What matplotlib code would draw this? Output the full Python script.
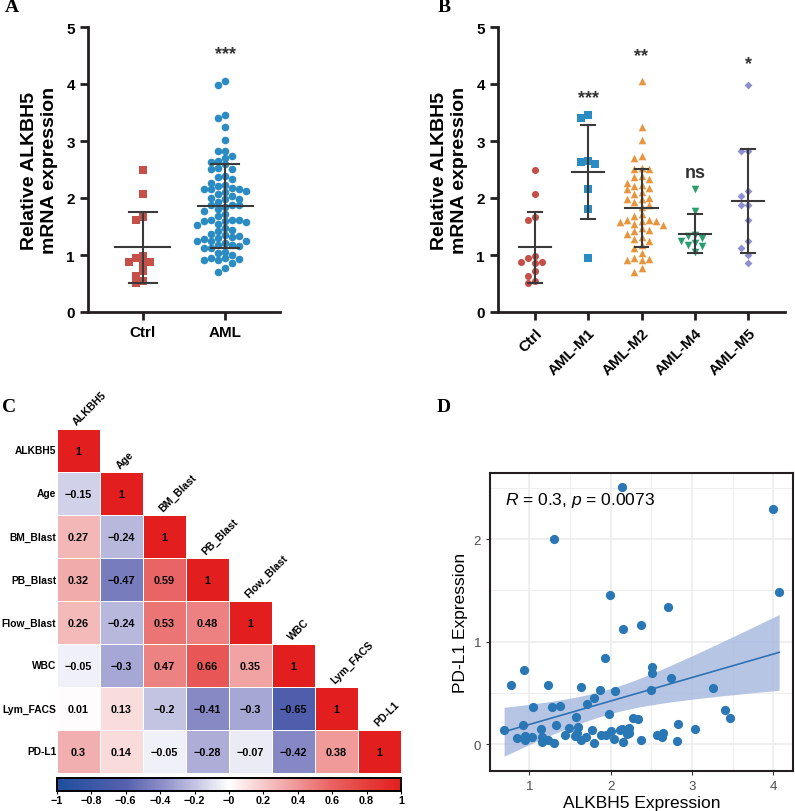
import numpy as np
import matplotlib
matplotlib.use("Agg")
import matplotlib.pyplot as plt
from matplotlib.colors import LinearSegmentedColormap

plt.rcParams['font.family'] = ['Liberation Sans', 'DejaVu Sans']
plt.rcParams['mathtext.fontset'] = 'custom'
plt.rcParams['mathtext.rm'] = 'Liberation Sans'
plt.rcParams['mathtext.it'] = 'Liberation Sans:italic'

# ---- data: panel A / B (relative ALKBH5 mRNA expression) ----
ctrl = [2.49, 2.07, 1.67, 1.62, 0.98, 0.95, 0.87, 0.87, 0.86, 0.72, 0.63, 0.54, 0.51]
m1 = [3.46, 3.40, 2.65, 2.64, 2.59, 2.15, 1.81, 0.95]
m2 = [4.06, 3.25, 3.02, 2.74, 2.71, 2.53, 2.51, 2.51, 2.38, 2.36, 2.33, 2.27, 2.22,
      2.21, 2.17, 2.15, 2.10, 2.07, 2.00, 1.99, 1.98, 1.93, 1.88, 1.85, 1.72, 1.69,
      1.62, 1.61, 1.60, 1.59, 1.58, 1.55, 1.53, 1.47, 1.44, 1.42, 1.36, 1.31, 1.28,
      1.24, 1.18, 1.12, 1.03, 0.94, 0.93, 0.92, 0.91, 0.77, 0.70]
m4 = [2.16, 1.78, 1.35, 1.33, 1.30, 1.24, 1.21, 1.18, 1.16, 1.06]
m5 = [3.99, 2.83, 2.82, 2.13, 2.04, 1.88, 1.87, 1.61, 1.24, 1.13, 1.00, 0.86]
aml = m1 + m2 + m4 + m5

a_groups = ["Ctrl", "AML"]
a_sig = ["", "***"]
b_groups = ["Ctrl", "AML-M1", "AML-M2", "AML-M4", "AML-M5"]
b_sig = ["", "***", "**", "ns", "*"]
b_sig_y = [0, 3.76, 4.49, 2.44, 4.36]

# ---- data: panel C (correlation matrix, lower triangle) ----
c_vars = ["ALKBH5", "Age", "BM_Blast", "PB_Blast", "Flow_Blast", "WBC", "Lym_FACS", "PD-L1"]
c_rows = [
    [1],
    [-0.15, 1],
    [0.27, -0.24, 1],
    [0.32, -0.47, 0.59, 1],
    [0.26, -0.24, 0.53, 0.48, 1],
    [-0.05, -0.3, 0.47, 0.66, 0.35, 1],
    [0.01, 0.13, -0.2, -0.41, -0.3, -0.65, 1],
    [0.3, 0.14, -0.05, -0.28, -0.07, -0.42, 0.38, 1],
]

# ---- data: panel D (ALKBH5 vs PD-L1) ----
d_x = [2.14, 3.99, 1.30, 4.07, 1.99, 2.71, 2.37, 2.15, 1.93, 0.93, 2.51, 2.51, 0.77, 1.23,
       1.64, 2.74, 2.05, 1.87, 2.50, 3.26, 1.80, 1.71, 1.05, 1.28, 1.38, 3.40, 3.46, 1.98,
       1.57, 2.27, 2.34, 0.69, 0.92, 1.14, 1.33, 1.49, 1.60, 1.77, 2.83, 3.03, 2.14, 2.23,
       0.85, 0.95, 1.03, 0.95, 1.15, 1.15, 1.23, 1.30, 1.44, 1.56, 1.63, 1.70, 1.80, 1.88,
       1.94, 2.00, 2.04, 2.15, 2.20, 2.37, 2.57, 2.64, 2.63, 2.81, 2.11, 2.22, 1.58]
d_y = [2.51, 2.29, 2.00, 1.48, 1.45, 1.34, 1.16, 1.12, 0.84, 0.72, 0.75, 0.69, 0.58, 0.58,
       0.56, 0.64, 0.52, 0.53, 0.53, 0.55, 0.45, 0.39, 0.36, 0.36, 0.37, 0.33, 0.25, 0.29,
       0.26, 0.25, 0.24, 0.14, 0.19, 0.15, 0.19, 0.16, 0.17, 0.14, 0.20, 0.15, 0.15, 0.16,
       0.06, 0.08, 0.07, 0.04, 0.07, 0.02, 0.04, 0.01, 0.09, 0.08, 0.04, 0.07, 0.01, 0.09,
       0.09, 0.13, 0.05, 0.02, 0.10, 0.04, 0.09, 0.11, 0.07, 0.03, 0.14, 0.11, 0.11]
d_label = "$\\it{R}$ = 0.3, $\\it{p}$ = 0.0073"

W, H = 795, 812


def box(l, t, r, b):
    return [l / W, 1 - b / H, (r - l) / W, (b - t) / H]


def swarm(vals, xpx, ypx, d):
    # simple beeswarm: grid offsets in pixel space
    vals = np.asarray(vals, float)
    offs = np.zeros(len(vals))
    placed = []
    cands = [0.0]
    for m in range(1, 30):
        cands += [-m * d, m * d]
    for i in np.argsort(-vals):
        y = vals[i] * ypx
        for c in cands:
            if all((c - o) ** 2 + (y - yy) ** 2 >= (0.97 * d) ** 2 for o, yy in placed):
                break
        placed.append((c, y))
        offs[i] = c / xpx
    return offs


def dot_plot(ax, groups, data, colors, markers, sizes, xpx, mean_hw, cap_hw):
    for k, (vals, col, mk, s) in enumerate(zip(data, colors, markers, sizes)):
        off = swarm(vals, xpx, 57.0, 7.0)
        ax.scatter(k + off, vals, s=s, marker=mk, color=col, linewidths=0,
                   zorder=3, clip_on=False)
        m = np.mean(vals)
        sd = np.std(vals, ddof=1)
        ec = '#3a3a3a'
        ax.plot([k - mean_hw, k + mean_hw], [m, m], color=ec, lw=1.5, zorder=4)
        ax.plot([k, k], [m - sd, m + sd], color=ec, lw=1.5, zorder=4)
        for yy in (m - sd, m + sd):
            ax.plot([k - cap_hw, k + cap_hw], [yy, yy], color=ec, lw=1.5, zorder=4)
    ax.set_ylim(0, 5)
    ax.set_yticks(range(6))
    ax.set_xticks(range(len(groups)))
    for sp in ('top', 'right'):
        ax.spines[sp].set_visible(False)
    for sp in ('left', 'bottom'):
        ax.spines[sp].set_linewidth(2)
        ax.spines[sp].set_color('#231f20')
    ax.tick_params(width=2, length=6, color='#231f20', labelsize=11)
    for t in ax.get_yticklabels() + ax.get_xticklabels():
        t.set_fontweight('bold')
    ax.set_ylabel("Relative ALKBH5\nmRNA expression", fontsize=14,
                  fontweight='bold', labelpad=6)


fig = plt.figure(figsize=(W / 100, H / 100), dpi=100)

# ---------------- panel A ----------------
axA = fig.add_axes(box(88, 28, 280, 313))
axA.set_xlim(-0.67, 1.67)
dot_plot(axA, a_groups, [ctrl, aml], ['#c5504a', '#2b8cc4'], ['s', 'o'], [26, 30],
         82.0, 0.335, 0.165)
axA.set_xticklabels(a_groups)
axA.text(1, 4.53, a_sig[1], ha='center', va='center', fontsize=13, fontweight='bold',
         color='#333333')

# ---------------- panel B ----------------
axB = fig.add_axes(box(498, 28, 785, 313))
axB.set_xlim(-0.69, 4.69)
dot_plot(axB, b_groups, [ctrl, m1, m2, m4, m5],
         ['#c5504a', '#2b8cc4', '#e8963e', '#2a9d6e', '#8e8fd0'],
         ['o', 's', '^', 'v', 'D'], [26, 28, 30, 30, 16], 53.3, 0.30, 0.13)
axB.set_xticklabels(b_groups, rotation=45, ha='right', rotation_mode='anchor')
for k in range(1, len(b_groups)):
    axB.text(k, b_sig_y[k], b_sig[k], ha='center', va='center', fontsize=13,
             fontweight='bold', color='#333333')

# ---------------- panel C ----------------
cmap = LinearSegmentedColormap.from_list('corr', [
    (0.0, '#1f4e9e'), (0.1, '#3a57a6'), (0.2, '#5661ae'), (0.3, '#8a8cc6'),
    (0.4, '#c3c3e2'), (0.5, '#ffffff'), (0.6, '#f6caca'), (0.7, '#ef9595'),
    (0.8, '#e96262'), (0.9, '#e63f3b'), (1.0, '#e31e1e')])
n = len(c_vars)
mat = np.full((n, n), np.nan)
for i, row in enumerate(c_rows):
    mat[i, :len(row)] = row
axC = fig.add_axes(box(57, 430, 401, 774))
mesh = axC.pcolormesh(np.ma.masked_invalid(mat), cmap=cmap, vmin=-1, vmax=1,
                      edgecolors='white', linewidth=0.4)
axC.set_xlim(0, n)
axC.set_ylim(n, 0)
axC.axis('off')
for i, row in enumerate(c_rows):
    axC.text(-0.02, i + 0.5, c_vars[i], ha='right', va='center', fontsize=7.4,
             fontweight='bold')
    for j, v in enumerate(row):
        axC.text(j + 0.5, i + 0.52, '{:g}'.format(v).replace('-', '\u2212'),
                 ha='center', va='center', fontsize=7.8, fontweight='bold')
    axC.text(i + 0.5, i - 0.05, c_vars[i], rotation=45, ha='left', va='bottom',
             rotation_mode='anchor', fontsize=7.6, fontweight='bold')

cax = fig.add_axes(box(57, 779, 401, 792))
cb = fig.colorbar(mesh, cax=cax, orientation='horizontal',
                  ticks=np.round(np.arange(-1, 1.01, 0.2), 1))
cb.outline.set_linewidth(1.4)
cb.ax.set_xticklabels(['{:g}'.format(t).replace('-', '\u2212')
                       for t in np.round(np.arange(-1, 1.01, 0.2), 1)])
cb.ax.tick_params(length=2, width=0.8, labelsize=7.8, pad=1)
for t in cb.ax.get_xticklabels():
    t.set_fontweight('bold')

# ---------------- panel D ----------------
axD = fig.add_axes(box(490, 474, 793, 772))
xs = np.array(d_x)
ys = np.array(d_y)
slope, icpt = np.polyfit(xs, ys, 1)
gx = np.linspace(xs.min(), xs.max(), 80)
gy = icpt + slope * gx
resid = ys - (icpt + slope * xs)
s_err = np.sqrt(np.sum(resid ** 2) / (len(xs) - 2))
se = s_err * np.sqrt(1 / len(xs) + (gx - xs.mean()) ** 2 / np.sum((xs - xs.mean()) ** 2))
tval = 1.996
axD.fill_between(gx, gy - tval * se, gy + tval * se, color='#a9bbe0', alpha=0.85,
                 linewidth=0, zorder=2)
axD.scatter(xs, ys, s=44, color='#2a77b6', linewidths=0, zorder=3)
axD.plot(gx, gy, color='#2f72b4', lw=1.2, zorder=4)
axD.set_xlim(0.517, 4.24)
axD.set_ylim(-0.263, 2.644)
axD.set_xticks([1, 2, 3, 4])
axD.set_yticks([0, 1, 2])
axD.set_xticks([1.5, 2.5, 3.5], minor=True)
axD.set_yticks([0.5, 1.5, 2.5], minor=True)
axD.grid(which='major', color='#ebebeb', lw=1.1, zorder=0)
axD.grid(which='minor', color='#ebebeb', lw=0.6, zorder=0)
axD.set_axisbelow(True)
for sp in axD.spines.values():
    sp.set_linewidth(1.5)
    sp.set_color('#231f20')
axD.tick_params(which='major', length=3, color='#333333', labelcolor='#4d4d4d',
                labelsize=9.5)
axD.tick_params(which='minor', length=0)
axD.set_xlabel("ALKBH5 Expression", fontsize=12.5, labelpad=2)
axD.set_ylabel("PD-L1 Expression", fontsize=12.5, labelpad=4)
axD.text(0.70, 2.39, d_label, ha='left', va='center', fontsize=12.5)

# ---------------- panel letters ----------------
for lab, px, py in [("A", 5, 8), ("B", 438, 8), ("C", 2, 408), ("D", 437, 408)]:
    fig.text(px / W, 1 - py / H, lab, fontsize=14, fontweight='bold',
             family='Liberation Serif', ha='left', va='center')

fig.savefig("out.png", dpi=100)
